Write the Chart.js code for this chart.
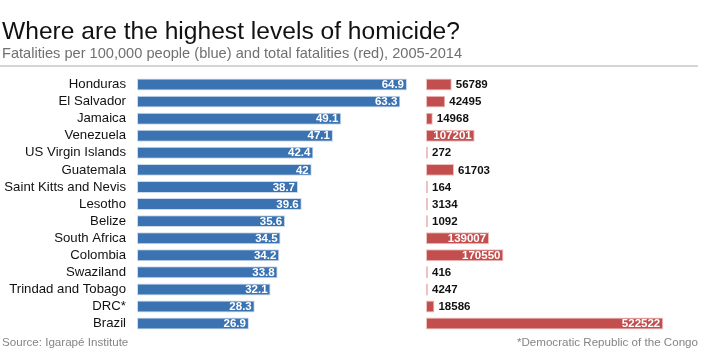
<!DOCTYPE html>
<html>
<head>
<meta charset="utf-8">
<script src="https://cdn.jsdelivr.net/npm/chart.js@4/dist/chart.umd.min.js"></script>
<style>
  body { margin: 0; background: #fff; }
  #chart { display: block; }
</style>
</head>
<body>
<canvas id="chart" width="701" height="351"></canvas>
<script>
"use strict";

const countries = ["Honduras", "El Salvador", "Jamaica", "Venezuela", "US Virgin Islands", "Guatemala",
    "Saint Kitts and Nevis", "Lesotho", "Belize", "South Africa", "Colombia", "Swaziland",
    "Trindad and Tobago", "DRC*", "Brazil"];
const ratePer100k = [64.9, 63.3, 49.1, 47.1, 42.4, 42, 38.7, 39.6, 35.6, 34.5, 34.2, 33.8, 32.1, 28.3, 26.9];
const totalDeaths = [56789, 42495, 14968, 107201, 272, 61703, 164, 3134, 1092, 139007, 170550, 416, 4247, 18586, 522522];

const titleText = "Where are the highest levels of homicide?";
const subtitleText = "Fatalities per 100,000 people (blue) and total fatalities (red), 2005-2014";
const sourceText = "Source: Igarapé Institute";
const noteText = "*Democratic Republic of the Congo";

// scale bounds: blue panel on the left, red panel starts a little right of it
const rateMin = 0, rateMax = 134.6;
const totalMin = -636564, totalMax = 596916;

const blue = "#3b72b1";
const red = "#c24f4e";
const FONT = "'Liberation Sans', Arial, sans-serif";

// title, subtitle, rule and footer drawn on the canvas
const headerFooter = {
    id: "headerFooter",
    beforeDraw(chart) {
        const c = chart.ctx;
        c.save();
        c.textBaseline = "alphabetic";
        c.textAlign = "left";
        c.fillStyle = "#111";
        c.font = "24.6px " + FONT;
        c.fillText(titleText, 2, 39);
        c.fillStyle = "#707070";
        c.font = "14.6px " + FONT;
        c.fillText(subtitleText, 2, 58);
        c.fillStyle = "#aaa";
        c.fillRect(0, 65.5, 698, 1);
        c.fillStyle = "#858585";
        c.font = "11.6px " + FONT;
        c.fillText(sourceText, 2, 346);
        c.textAlign = "right";
        c.fillText(noteText, 698, 346);
        c.restore();
    }
};

// draws the value on/next to each bar
const valueLabels = {
    id: "valueLabels",
    afterDatasetsDraw(chart) {
        const c = chart.ctx;
        c.save();
        c.font = "bold 11.5px " + FONT;
        c.textBaseline = "middle";
        chart.data.datasets.forEach(function (ds, di) {
            const meta = chart.getDatasetMeta(di);
            meta.data.forEach(function (bar, i) {
                const txt = String(ds.data[i]);
                const w = c.measureText(txt).width;
                const len = bar.x - bar.base;
                if (di === 0 || w + 7 < len) {
                    c.fillStyle = "#fff";
                    c.textAlign = "right";
                    c.fillText(txt, bar.x - 3, bar.y + 0.5);
                } else {
                    c.fillStyle = "#111";
                    c.textAlign = "left";
                    c.fillText(txt, bar.x + 4, bar.y + 0.5);
                }
            });
        });
        c.restore();
    }
};

new Chart(document.getElementById("chart"), {
    type: "bar",
    data: {
        labels: countries,
        datasets: [{
            label: "Fatalities per 100,000",
            data: ratePer100k,
            backgroundColor: blue,
            borderColor: "rgba(200,215,235,0.9)",
            borderWidth: 1,
            borderSkipped: false,
            xAxisID: "x"
        }, {
            label: "Total fatalities",
            data: totalDeaths,
            backgroundColor: red,
            borderColor: "rgba(238,190,190,0.95)",
            borderWidth: 1,
            borderSkipped: false,
            minBarLength: 2,
            xAxisID: "x2"
        }]
    },
    options: {
        indexAxis: "y",
        responsive: false,
        animation: false,
        events: [],
        layout: { padding: { top: 76, bottom: 16, left: 0, right: 4 } },
        plugins: {
            legend: { display: false },
            tooltip: { enabled: false }
        },
        datasets: {
            bar: { barPercentage: 0.7, categoryPercentage: 1, grouped: false }
        },
        scales: {
            x: { display: false, min: rateMin, max: rateMax },
            x2: { display: false, position: "bottom", min: totalMin, max: totalMax },
            y: {
                grid: { display: false, drawTicks: false },
                border: { display: false },
                ticks: {
                    color: "#111",
                    padding: 11,
                    autoSkip: false,
                    font: { family: FONT, size: 13.2 }
                },
                afterFit: function (scale) { scale.width = 137; }
            }
        }
    },
    plugins: [headerFooter, valueLabels]
});
</script>
</body>
</html>
